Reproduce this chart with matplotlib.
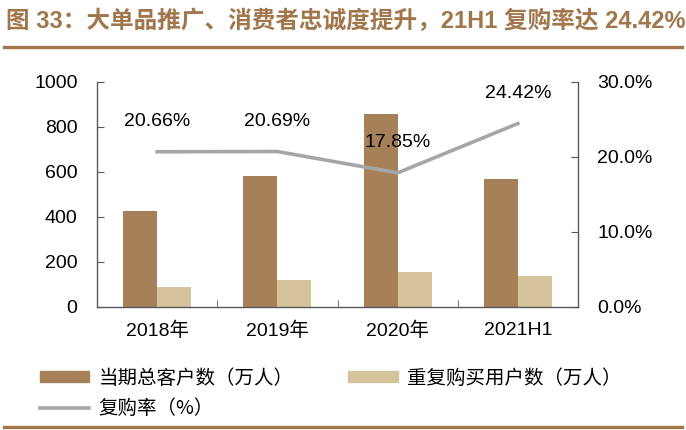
import matplotlib.pyplot as plt
import matplotlib.lines as mlines
import matplotlib.patches as mpatches
import numpy as np

# 数据
categories = ['2018年', '2019年', '2020年', '2021H1']
total_users = [427, 582, 855, 567]        # 当期总客户数（万人）
repeat_users = [88, 120, 153, 138]        # 重复购买用户数（万人）
repeat_rate = [20.66, 20.69, 17.85, 24.42]  # 复购率（%）
rate_labels = ['20.66%', '20.69%', '17.85%', '24.42%']

title = '图 33：大单品推广、消费者忠诚度提升，21H1 复购率达 24.42%'

# 颜色
c_dark = '#A68058'
c_light = '#D5C39B'
c_line = '#A6A6A6'
c_title = '#A0764A'
c_axis = '#595959'

latin = ['Liberation Sans', 'Noto Sans CJK SC']
cjk = ['Noto Sans CJK SC', 'DejaVu Sans']
fs = 14

fig = plt.figure(figsize=(6.86, 4.30), dpi=100)
ax = fig.add_axes([97 / 686, 1 - 306.7 / 430, 481 / 686, 225 / 430])
ax2 = ax.twinx()

x = np.arange(len(categories))
w = 0.283
ax.bar(x - w / 2, total_users, w, color=c_dark, zorder=2)
ax.bar(x + w / 2, repeat_users, w, color=c_light, zorder=2)

ax.set_xlim(-0.5, 3.5)
ax.set_ylim(0, 1000)
ax.set_yticks(range(0, 1001, 200))
ax.set_xticks(x)
ax.set_xticklabels(categories, family=latin, fontsize=fs)
ax.set_xticks([0.5, 1.5, 2.5], minor=True)
ax.tick_params(axis='x', which='major', length=0, pad=11)
ax.tick_params(axis='x', which='minor', length=5, direction='in', color=c_axis)
ax.tick_params(axis='y', length=5, direction='in', pad=14, labelsize=fs, color=c_axis)
for lab in ax.get_yticklabels():
    lab.set_family(latin)

ax2.plot(x, repeat_rate, color=c_line, linewidth=2.6, zorder=3)
ax2.set_ylim(0, 30)
ax2.set_yticks([0, 10, 20, 30])
ax2.set_yticklabels(['0.0%', '10.0%', '20.0%', '30.0%'], family=latin, fontsize=fs)
ax2.tick_params(axis='y', length=5, direction='in', pad=14, color=c_axis)
for xi, v, t in zip(x, repeat_rate, rate_labels):
    ax2.annotate(t, (xi, v), xytext=(0, 21.6), textcoords='offset points',
                 ha='center', va='center', fontsize=fs, family=latin)

for a in (ax, ax2):
    a.spines['top'].set_visible(False)
    for s in ('left', 'right', 'bottom'):
        a.spines[s].set_color(c_axis)
        a.spines[s].set_linewidth(1.0)
ax.spines['right'].set_visible(False)
ax2.spines['left'].set_visible(False)
ax2.spines['bottom'].set_visible(False)

# 标题与分隔线
fig.text(6 / 686, 1 - 21 / 430, title, color=c_title, fontsize=17, fontweight='bold',
         family=['Liberation Sans', 'Noto Sans CJK SC'], va='center', ha='left')
fig.add_artist(mlines.Line2D([4 / 686, 682 / 686], [1 - 46.5 / 430] * 2,
                             color=c_title, linewidth=2.4))
fig.add_artist(mlines.Line2D([4 / 686, 682 / 686], [1 - 427 / 430] * 2,
                             color=c_title, linewidth=2.4))

# 图例
h1 = mpatches.Patch(color=c_dark, label='当期总客户数（万人）')
h2 = mlines.Line2D([], [], color=c_line, linewidth=2.6, label='复购率（%）')
h3 = mpatches.Patch(color=c_light, label='重复购买用户数（万人）')
fig.legend(handles=[h1, h2, h3], ncol=2, loc='upper left',
           bbox_to_anchor=(22 / 686, 1 - 350 / 430), frameon=False,
           prop={'family': cjk, 'size': 14}, handlelength=2.57, handleheight=0.45,
           handletextpad=0.46, columnspacing=2.83, labelspacing=0.5)

fig.savefig('out.png', dpi=100)
